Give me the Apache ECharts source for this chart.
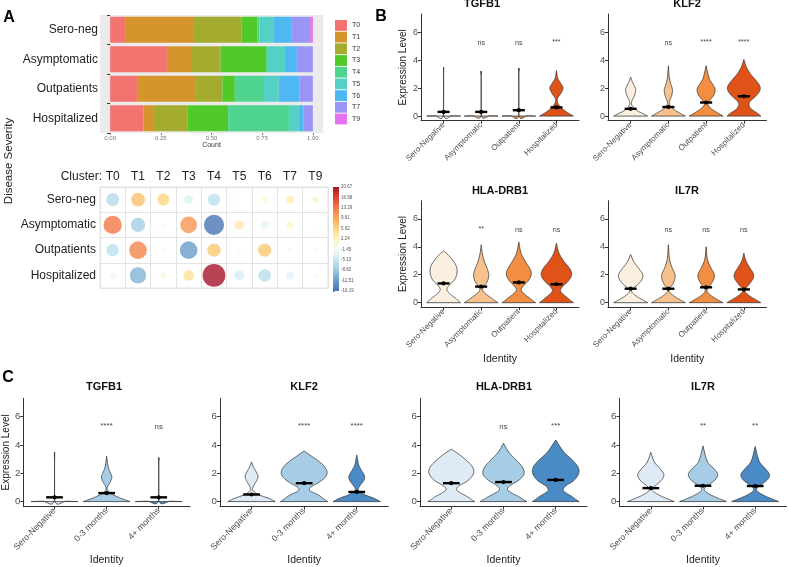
<!DOCTYPE html>
<html><head><meta charset="utf-8">
<script src="https://cdn.jsdelivr.net/npm/echarts@6/dist/echarts.min.js"></script>
<style>html,body{margin:0;padding:0;background:#fff}#c{width:788px;height:567px}</style>
</head><body><div id="c"></div><script>
// ---------------- DATA ----------------
const clusters = ['T0','T1','T2','T3','T4','T5','T6','T7','T9'];
const severity = ['Sero-neg','Asymptomatic','Outpatients','Hospitalized'];
const clusterColors = ['#f27370','#d6952c','#a4ac2f','#50c92b','#4fd58f','#55d0c6','#4fb7f1','#9a94f4','#e472ee'];
// cluster proportions per severity group (fractions of 1)
const propSeroNeg = [0.074,0.335,0.240,0.077,0.010,0.069,0.091,0.091,0.013];
const propAsym    = [0.280,0.124,0.141,0.224,0.005,0.089,0.058,0.079,0.000];
const propOutp    = [0.133,0.286,0.135,0.061,0.144,0.073,0.102,0.066,0.000];
const propHosp    = [0.165,0.051,0.165,0.201,0.301,0.048,0.023,0.046,0.000];
const countTicks = [0, 0.25, 0.5, 0.75, 1];
// dot plot residuals per severity group
const resSeroNeg = [-6.8, 7.8, 5.8, -3.2, -6.1, 0.3, 1.1, 2.8, 1.6];
const resAsym    = [13.4, -8.2, -0.4, 11.1, -16.19, 3.5, -2.8, 1.8, 0.2];
const resOutp    = [-6.1, 12.5, -1.1, -12.5, 7.1, 0.3, 7.1, -1.0, -0.5];
const resHosp    = [-1.8, -10.7, 1.3, 4.6, 20.67, -4.0, -6.4, -2.8, -0.7];
const colorTicks = ['-16.19','-12.51','-8.82','-5.13','-1.45','2.24','5.92','9.61','13.29','16.98','20.67'];
const residColors = ['#4a74b4','#6a9ccb','#9ccbe2','#c9e7f0','#f3fafc','#fff5c0','#fed67f','#fba95c','#f27a48','#db4430','#a8142a'];

const catsB = ['Sero-Negative','Asymptomatic','Outpatient','Hospitalized'];
const catsC = ['Sero-Negative','0-3 months','4+ months'];
const colorsB = ['#fbefe0','#f6c18d','#f18e42','#df5318'];
const colorsC = ['#deebf7','#a6cde5','#4a8bc6'];
const exprTicks = [0, 2, 4, 6];

// violin outlines: [expression, relative half-width]
const bTGFB1Means = [0.30, 0.30, 0.42, 0.62];
const bTGFB1Sig = ['', 'ns', 'ns', '***'];
const bTGFB1Shapes = [
  [[0,1],[0.03,0.5],[0.06,0.012],[3.25,0.006],[3.26,0]],
  [[0,1],[0.03,0.5],[0.06,0.012],[3.0,0.006],[3.01,0]],
  [[0,1],[0.03,0.5],[0.06,0.012],[3.2,0.006],[3.21,0]],
  [[0,1],[0.2,0.72],[0.45,0.42],[0.75,0.17],[1.05,0.05],[1.3,0.08],[1.6,0.25],[2.0,0.39],[2.35,0.25],[2.7,0.08],[3.25,0]]
];
const bKLF2Means = [0.52, 0.65, 0.97, 1.42];
const bKLF2Sig = ['', 'ns', '****', '****'];
const bKLF2Shapes = [
  [[0,1],[0.2,0.68],[0.37,0.4],[0.6,0.18],[0.85,0.05],[1.1,0.08],[1.4,0.2],[1.85,0.3],[2.15,0.22],[2.45,0.1],[2.8,0]],
  [[0,1],[0.2,0.7],[0.4,0.42],[0.6,0.2],[0.85,0.06],[1.1,0.08],[1.5,0.2],[1.9,0.24],[2.3,0.14],[2.8,0.05],[3.6,0]],
  [[0,1],[0.2,0.72],[0.4,0.45],[0.6,0.24],[0.85,0.1],[1.1,0.2],[1.5,0.45],[1.9,0.53],[2.25,0.4],[2.7,0.18],[3.6,0]],
  [[0,1],[0.2,0.8],[0.4,0.55],[0.6,0.37],[0.85,0.3],[1.1,0.4],[1.45,0.72],[1.85,0.95],[2.2,0.92],[2.6,0.68],[3.0,0.4],[3.5,0.15],[4.05,0]]
];
const bHLAMeans = [1.38, 1.15, 1.45, 1.32];
const bHLASig = ['', '**', 'ns', 'ns'];
const bHLAShapes = [
  [[0,1],[0.15,0.85],[0.35,0.68],[0.6,0.4],[0.85,0.22],[1.05,0.22],[1.3,0.38],[1.7,0.68],[2.2,0.8],[2.65,0.74],[3.1,0.5],[3.45,0.25],[3.7,0]],
  [[0,1],[0.15,0.8],[0.35,0.58],[0.6,0.3],[0.85,0.1],[1.1,0.12],[1.5,0.35],[1.95,0.45],[2.4,0.37],[2.9,0.2],[3.5,0.07],[4.15,0]],
  [[0,1],[0.15,0.82],[0.35,0.62],[0.6,0.35],[0.9,0.14],[1.2,0.27],[1.6,0.58],[2.05,0.74],[2.5,0.62],[3.0,0.36],[3.6,0.12],[4.35,0]],
  [[0,1],[0.15,0.84],[0.35,0.65],[0.6,0.4],[0.85,0.24],[1.15,0.36],[1.55,0.7],[2.0,0.9],[2.45,0.78],[2.95,0.45],[3.55,0.15],[4.25,0]]
];
const bIL7RMeans = [1.0, 1.0, 1.1, 0.95];
const bIL7RSig = ['', 'ns', 'ns', 'ns'];
const bIL7RShapes = [
  [[0,1],[0.2,0.7],[0.4,0.42],[0.6,0.2],[0.8,0.06],[1.0,0.12],[1.3,0.42],[1.7,0.68],[2.05,0.7],[2.45,0.48],[2.9,0.2],[3.45,0]],
  [[0,1],[0.2,0.7],[0.4,0.42],[0.6,0.2],[0.8,0.05],[1.0,0.07],[1.3,0.24],[1.7,0.38],[2.05,0.38],[2.5,0.22],[3.1,0.07],[4.15,0]],
  [[0,1],[0.2,0.7],[0.4,0.42],[0.6,0.2],[0.8,0.06],[1.0,0.09],[1.35,0.3],[1.75,0.47],[2.1,0.46],[2.5,0.28],[3.1,0.08],[4.0,0]],
  [[0,1],[0.2,0.72],[0.4,0.44],[0.6,0.22],[0.8,0.07],[1.0,0.1],[1.35,0.33],[1.75,0.55],[2.1,0.55],[2.5,0.35],[3.0,0.12],[3.55,0]]
];
const cTGFB1Means = [0.30, 0.60, 0.30];
const cTGFB1Sig = ['', '****', 'ns'];
const cTGFB1Shapes = [
  [[0,1],[0.03,0.5],[0.06,0.012],[3.25,0.006],[3.26,0]],
  [[0,1],[0.2,0.66],[0.4,0.38],[0.6,0.16],[0.85,0.03],[1.1,0.05],[1.4,0.16],[1.75,0.22],[2.1,0.14],[2.5,0.06],[3.2,0]],
  [[0,1],[0.03,0.5],[0.06,0.012],[2.9,0.006],[2.91,0]]
];
const cKLF2Means = [0.50, 1.30, 0.68];
const cKLF2Sig = ['', '****', '****'];
const cKLF2Shapes = [
  [[0,1],[0.24,0.7],[0.47,0.32],[0.7,0.1],[0.9,0.04],[1.2,0.12],[1.5,0.22],[1.8,0.27],[2.15,0.18],[2.45,0.08],[2.8,0]],
  [[0,1],[0.2,0.82],[0.47,0.6],[0.7,0.3],[0.85,0.22],[1.05,0.3],[1.35,0.62],[1.7,0.88],[2.05,0.97],[2.45,0.87],[2.85,0.62],[3.2,0.32],[3.58,0]],
  [[0,1],[0.24,0.72],[0.47,0.35],[0.7,0.12],[0.9,0.06],[1.2,0.17],[1.5,0.3],[1.8,0.33],[2.15,0.22],[2.6,0.08],[3.3,0]]
];
const cHLAMeans = [1.30, 1.38, 1.53];
const cHLASig = ['', 'ns', '***'];
const cHLAShapes = [
  [[0,1],[0.15,0.85],[0.35,0.68],[0.6,0.4],[0.85,0.22],[1.1,0.32],[1.5,0.72],[2.0,0.95],[2.45,0.9],[2.9,0.65],[3.35,0.32],[3.7,0]],
  [[0,1],[0.15,0.84],[0.35,0.64],[0.6,0.36],[0.85,0.17],[1.15,0.3],[1.55,0.68],[2.0,0.88],[2.5,0.78],[3.0,0.5],[3.5,0.22],[4.12,0]],
  [[0,1],[0.15,0.86],[0.35,0.7],[0.6,0.45],[0.8,0.32],[1.1,0.42],[1.5,0.78],[2.0,0.98],[2.45,0.95],[2.95,0.7],[3.5,0.35],[4.35,0]]
];
const cIL7RMeans = [0.95, 1.12, 1.10];
const cIL7RSig = ['', '**', '**'];
const cIL7RShapes = [
  [[0,1],[0.2,0.7],[0.4,0.42],[0.6,0.2],[0.8,0.06],[1.0,0.1],[1.3,0.32],[1.6,0.5],[1.95,0.55],[2.35,0.38],[2.8,0.15],[3.48,0]],
  [[0,1],[0.2,0.7],[0.4,0.42],[0.6,0.2],[0.8,0.06],[1.0,0.1],[1.3,0.34],[1.6,0.55],[1.95,0.62],[2.35,0.45],[2.85,0.18],[3.93,0]],
  [[0,1],[0.2,0.7],[0.4,0.42],[0.6,0.2],[0.8,0.06],[1.0,0.11],[1.3,0.34],[1.6,0.55],[1.95,0.6],[2.35,0.42],[2.85,0.17],[3.9,0]]
];

// ---------------- LAYOUT ----------------
const FONT = "'Liberation Sans', Arial, sans-serif";
const violinPanels = [
  {title:'TGFB1', tx:482, ty:4, grid:{left:421, top:14, width:158, height:106.7}, ymin:-0.33, cats:catsB, colors:colorsB, means:bTGFB1Means, sig:bTGFB1Sig, shapes:bTGFB1Shapes, ylab:true, xlab:false, fs:8, sigY:5.2},
  {title:'KLF2', tx:687, ty:4, grid:{left:608, top:14, width:158.5, height:106.7}, ymin:-0.33, cats:catsB, colors:colorsB, means:bKLF2Means, sig:bKLF2Sig, shapes:bKLF2Shapes, ylab:false, xlab:false, fs:8, sigY:5.2},
  {title:'HLA-DRB1', tx:500, ty:190.7, grid:{left:421, top:200.7, width:158, height:106.6}, ymin:-0.33, cats:catsB, colors:colorsB, means:bHLAMeans, sig:bHLASig, shapes:bHLAShapes, ylab:true, xlab:true, fs:8, sigY:5.2, ngap:46},
  {title:'IL7R', tx:687, ty:190.7, grid:{left:608, top:200.7, width:158.5, height:106.6}, ymin:-0.33, cats:catsB, colors:colorsB, means:bIL7RMeans, sig:bIL7RSig, shapes:bIL7RShapes, ylab:false, xlab:true, fs:8, sigY:5.2, ngap:46},
  {title:'TGFB1', tx:104, ty:386.7, grid:{left:21.7, top:398.3, width:168.3, height:108.4}, ymin:-0.35, cats:catsC, colors:colorsC, means:cTGFB1Means, sig:cTGFB1Sig, shapes:cTGFB1Shapes, ylab:true, xlab:true, fs:8.7, sigY:5.25, ngap:48, ygap:11},
  {title:'KLF2', tx:304, ty:386.7, grid:{left:220, top:398.3, width:168.3, height:108.4}, ymin:-0.35, cats:catsC, colors:colorsC, means:cKLF2Means, sig:cKLF2Sig, shapes:cKLF2Shapes, ylab:false, xlab:true, fs:8.7, sigY:5.25, ngap:48},
  {title:'HLA-DRB1', tx:504, ty:386.7, grid:{left:420, top:398.3, width:167, height:108.4}, ymin:-0.35, cats:catsC, colors:colorsC, means:cHLAMeans, sig:cHLASig, shapes:cHLAShapes, ylab:false, xlab:true, fs:8.7, sigY:5.25, ngap:48},
  {title:'IL7R', tx:703, ty:386.7, grid:{left:619.5, top:398.3, width:167, height:108.4}, ymin:-0.35, cats:catsC, colors:colorsC, means:cIL7RMeans, sig:cIL7RSig, shapes:cIL7RShapes, ylab:false, xlab:true, fs:8.7, sigY:5.25, ngap:48}
];

function catmull(p) {
  const out = [], n = p.length;
  for (let i = 0; i < n - 1; i++) {
    const p0 = p[Math.max(0, i - 1)], p1 = p[i], p2 = p[i + 1], p3 = p[Math.min(n - 1, i + 2)];
    const steps = 8;
    for (let s = 0; s < steps; s++) {
      const t = s / steps, t2 = t * t, t3 = t2 * t;
      const f = k => 0.5 * (2 * p1[k] + (-p0[k] + p2[k]) * t + (2 * p0[k] - 5 * p1[k] + 4 * p2[k] - p3[k]) * t2 + (-p0[k] + 3 * p1[k] - 3 * p2[k] + p3[k]) * t3);
      out.push([f(0), Math.max(0, f(1))]);
    }
  }
  out.push(p[n - 1]);
  return out;
}
function makeViolin(shapes, colors) {
  const halfW = 0.45, barHalf = 0.16;
  return function (params, api) {
    const i = params.dataIndex;
    const x = api.value(0), m = api.value(1);
    const side = catmull(shapes[i]);
    const pts = [];
    side.forEach(p => pts.push(api.coord([x - p[1] * halfW, p[0]])));
    for (let k = side.length - 1; k >= 0; k--) { const p = side[k]; pts.push(api.coord([x + p[1] * halfW, p[0]])); }
    const a = api.coord([x - barHalf, m]), b = api.coord([x + barHalf, m]), c = api.coord([x, m]);
    return {type:'group', children:[
      {type:'polygon', shape:{points: pts}, style:{fill: colors[i], stroke:'#3b3b3b', lineWidth:0.8}},
      {type:'line', shape:{x1:a[0], y1:a[1], x2:b[0], y2:b[1]}, style:{stroke:'#000', lineWidth:2.4}},
      {type:'circle', shape:{cx:c[0], cy:c[1], r:2.1}, style:{fill:'#000'}}
    ]};
  };
}
function makeSig(sig, fs) {
  return function (params, api) {
    const c = api.coord([api.value(0), api.value(1)]);
    const t = sig[params.dataIndex];
    const star = t.indexOf('*') >= 0;
    return {type:'text', x:c[0], y:c[1] + (star ? -1 : 0), style:{text:t, fontSize:fs, fontFamily:FONT, fill:'#444', align:'center', verticalAlign:'middle', textAlign:'center', textVerticalAlign:'middle'}};
  };
}

const grids = [
  {left:100, top:15, width:223, height:118, show:true, backgroundColor:'#ebebeb', borderWidth:0},
  {left:100, top:187, width:228, height:101, show:true, borderColor:'#e2e2e2', borderWidth:1},
  {left:333, top:187, width:6, height:104}
];
const xAxes = [
  {type:'value', gridIndex:0, min:-0.05, max:1.05, axisLine:{show:false},
   axisTick:{show:true, customValues:countTicks, length:2, lineStyle:{color:'#777'}},
   axisLabel:{show:true, customValues:countTicks, fontSize:6, color:'#777', margin:2, formatter:v=>v.toFixed(2)},
   splitLine:{show:false}, name:'Count', nameLocation:'middle', nameGap:9, nameTextStyle:{fontSize:7, color:'#333'}},
  {type:'category', gridIndex:1, data:clusters, position:'top', axisLine:{show:false}, axisTick:{show:false},
   axisLabel:{fontSize:12, color:'#222', margin:4}, splitLine:{show:true, lineStyle:{color:'#e2e2e2'}}},
  {type:'value', gridIndex:2, min:0, max:1, show:false}
];
const yAxes = [
  {type:'category', gridIndex:0, data:severity, inverse:true, axisLine:{show:false},
   axisTick:{show:true, length:3, lineStyle:{color:'#333'}}, axisLabel:{fontSize:12, color:'#222', margin:2}},
  {type:'category', gridIndex:1, data:severity, inverse:true, axisLine:{show:false}, axisTick:{show:false},
   axisLabel:{fontSize:12, color:'#222', margin:4}, splitLine:{show:true, lineStyle:{color:'#e2e2e2'}}},
  {type:'category', gridIndex:2, data:colorTicks, boundaryGap:false, position:'right', axisLine:{show:false},
   axisTick:{show:true, length:1.5, lineStyle:{color:'#666'}}, axisLabel:{fontSize:4.5, color:'#555', margin:2, interval:0}}
];
const groups = [propSeroNeg, propAsym, propOutp, propHosp];
const resid = [resSeroNeg, resAsym, resOutp, resHosp];
const series = [];
clusters.forEach((cl, ci) => {
  series.push({type:'bar', name:cl, stack:'tot', xAxisIndex:0, yAxisIndex:0, barWidth:'88%',
    itemStyle:{color:clusterColors[ci]}, data:groups.map(g => g[ci])});
});
const dotData = [];
resid.forEach((row, ri) => row.forEach((v, ci) => dotData.push([ci, ri, v])));
series.push({type:'scatter', xAxisIndex:1, yAxisIndex:1, data:dotData,
  symbolSize:val => 5 * Math.sqrt(Math.abs(val[2]))});
const dotSeriesIndex = series.length - 1;
series.push({type:'custom', xAxisIndex:2, yAxisIndex:2, data:[[0,0]], renderItem:(params, api) => {
  const b = api.coord([0, 0]), t = api.coord([1, colorTicks.length - 1]);
  const stops = residColors.map((c, i) => ({offset: i / (residColors.length - 1), color: c}));
  return {type:'rect', shape:{x:b[0], y:t[1], width:t[0]-b[0], height:b[1]-t[1]},
    style:{fill:new echarts.graphic.LinearGradient(0, 1, 0, 0, stops)}};
}});

const graphics = [
  {type:'text', x:9, y:18, style:{text:'A', fontSize:16, fontWeight:'bold', fontFamily:FONT, fill:'#000', align:'center', verticalAlign:'middle', textAlign:'center', textVerticalAlign:'middle'}},
  {type:'text', x:381, y:17, style:{text:'B', fontSize:16, fontWeight:'bold', fontFamily:FONT, fill:'#000', align:'center', verticalAlign:'middle', textAlign:'center', textVerticalAlign:'middle'}},
  {type:'text', x:8, y:378, style:{text:'C', fontSize:16, fontWeight:'bold', fontFamily:FONT, fill:'#000', align:'center', verticalAlign:'middle', textAlign:'center', textVerticalAlign:'middle'}},
  {type:'text', x:8.5, y:161, rotation:Math.PI/2, style:{text:'Disease Severity', fontSize:11.5, fontFamily:FONT, fill:'#222', align:'center', verticalAlign:'middle', textAlign:'center', textVerticalAlign:'middle'}},
  {type:'text', x:102, y:177, style:{text:'Cluster:', fontSize:12, fontFamily:FONT, fill:'#222', align:'right', verticalAlign:'middle', textAlign:'right', textVerticalAlign:'middle'}}
];

violinPanels.forEach((p, k) => {
  const gi = grids.length;
  grids.push(p.grid);
  const ticks = p.cats.map((c, i) => i + 1);
  xAxes.push({type:'value', gridIndex:gi, min:0.4, max:p.cats.length + 0.6,
    axisLine:{show:true, onZero:false, lineStyle:{color:'#333', width:1}},
    axisTick:{show:true, customValues:ticks, length:3, lineStyle:{color:'#333'}},
    axisLabel:{show:true, customValues:ticks, rotate:45, fontSize:p.fs, color:'#4d4d4d', margin:3, formatter:v => p.cats[Math.round(v) - 1] || ''},
    splitLine:{show:false},
    name:p.xlab ? 'Identity' : '', nameLocation:'middle', nameGap:p.ngap || 46, nameTextStyle:{fontSize:10.5, color:'#222'}});
  yAxes.push({type:'value', gridIndex:gi, min:p.ymin, max:7.3,
    axisLine:{show:true, onZero:false, lineStyle:{color:'#333', width:1}},
    axisTick:{show:true, customValues:exprTicks, length:3, lineStyle:{color:'#333'}},
    axisLabel:{show:true, customValues:exprTicks, fontSize:p.fs + 1, color:'#4d4d4d', margin:3},
    splitLine:{show:false},
    name:p.ylab ? 'Expression Level' : '', nameLocation:'middle', nameRotate:90, nameGap:p.ygap || 13, nameTextStyle:{fontSize:10, color:'#222'}});
  series.push({type:'custom', xAxisIndex:gi, yAxisIndex:gi, data:p.means.map((m, i) => [i + 1, m]),
    renderItem:makeViolin(p.shapes, p.colors)});
  series.push({type:'custom', xAxisIndex:gi, yAxisIndex:gi, data:p.sig.map((s, i) => [i + 1, p.sigY]),
    renderItem:makeSig(p.sig, p.fs - 0.8)});
  graphics.push({type:'text', x:p.tx, y:p.ty, style:{text:p.title, fontSize:11, fontWeight:'bold', fontFamily:FONT, fill:'#111', align:'center', verticalAlign:'middle', textAlign:'center', textVerticalAlign:'middle'}});
});

const chart = echarts.init(document.getElementById('c'), null, {renderer:'canvas'});
chart.setOption({
  animation:false,
  textStyle:{fontFamily:FONT},
  grid:grids, xAxis:xAxes, yAxis:yAxes, series:series,
  legend:{data:clusters, orient:'vertical', left:335, top:20, itemWidth:12, itemHeight:10.8, itemGap:0.9,
    icon:'rect', padding:0, selectedMode:false, textStyle:{fontSize:7, color:'#333'}},
  visualMap:{type:'continuous', show:false, seriesIndex:dotSeriesIndex, dimension:2, min:-16.19, max:20.67,
    inRange:{color:residColors}},
  graphic:graphics
});
</script></body></html>
